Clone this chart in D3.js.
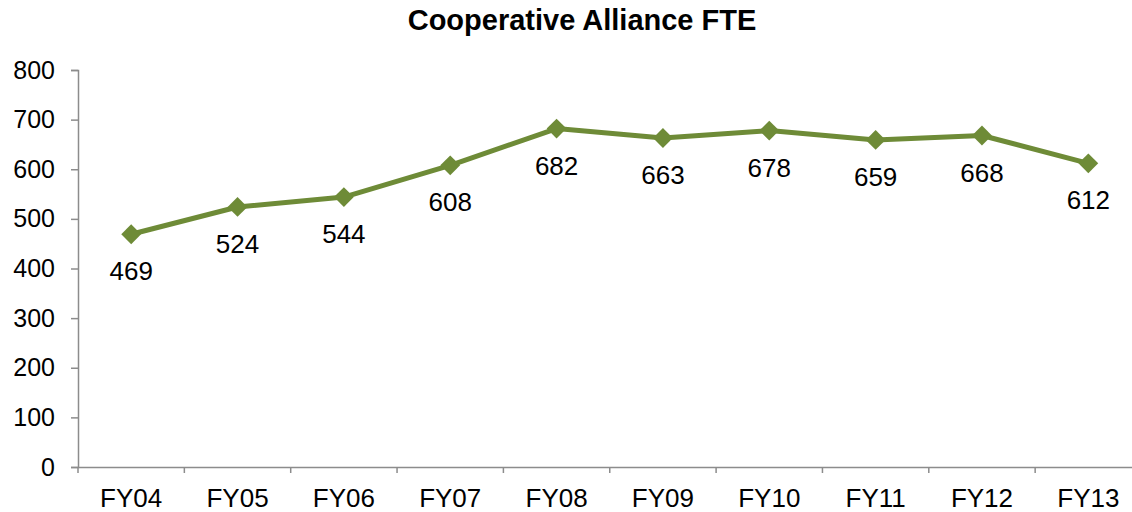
<!DOCTYPE html>
<html>
<head>
<meta charset="utf-8">
<script src="https://cdn.jsdelivr.net/npm/d3@7"></script>
<style>
  body { margin: 0; background: #fff; }
  svg { display: block; font-family: "Liberation Sans", Arial, sans-serif; }
</style>
</head>
<body>
<div id="chart"></div>
<script>
const years = ["FY04", "FY05", "FY06", "FY07", "FY08", "FY09", "FY10", "FY11", "FY12", "FY13"];
const fte = [469, 524, 544, 608, 682, 663, 678, 659, 668, 612];
const yTicks = [0, 100, 200, 300, 400, 500, 600, 700, 800];

const width = 1132;
const height = 512;
const lineColor = "#6e8b37";

const svg = d3.select("#chart")
  .append("svg")
  .attr("width", width)
  .attr("height", height);

// title
svg.append("text")
  .attr("x", 582)
  .attr("y", 30)
  .attr("text-anchor", "middle")
  .style("font-size", "29px")
  .style("font-weight", "bold")
  .text("Cooperative Alliance FTE");

// scales
const x = d3.scaleBand()
  .domain(years)
  .range([78, 78 + 106.35 * years.length]);

const y = d3.scaleLinear()
  .domain([0, 800])
  .range([467, 70]);

// y axis
const yAxis = d3.axisLeft(y)
  .tickValues(yTicks)
  .tickSize(7)
  .tickSizeOuter(7)
  .tickPadding(16);

const gy = svg.append("g")
  .attr("transform", "translate(78,0)")
  .call(yAxis);
gy.select(".domain").attr("stroke", "#8c8c8c").attr("stroke-width", 1.5);
gy.selectAll(".tick line").attr("stroke", "#8c8c8c").attr("stroke-width", 1.5);
gy.selectAll(".tick text")
  .style("font-size", "25px")
  .attr("fill", "#000");

// x axis
const xAxis = d3.axisBottom(x)
  .tickSize(0)
  .tickPadding(21.5);

const gx = svg.append("g")
  .attr("transform", "translate(0,467)")
  .call(xAxis);
gx.select(".domain").attr("stroke", "#8c8c8c").attr("stroke-width", 1.5);
gx.selectAll(".tick text")
  .style("font-size", "26px")
  .attr("fill", "#000");

// category boundary ticks
gx.selectAll(".bound")
  .data(years)
  .enter()
  .append("line")
  .attr("class", "bound")
  .attr("x1", d => x(d))
  .attr("x2", d => x(d))
  .attr("y1", 0)
  .attr("y2", 6)
  .attr("stroke", "#8c8c8c")
  .attr("stroke-width", 1.5);

const cx = d => x(d) + x.bandwidth() / 2;

// line
const line = d3.line()
  .x((d, i) => cx(years[i]))
  .y(d => y(d));

svg.append("path")
  .datum(fte)
  .attr("fill", "none")
  .attr("stroke", lineColor)
  .attr("stroke-width", 5)
  .attr("stroke-linejoin", "round")
  .attr("d", line);

// markers
svg.selectAll(".marker")
  .data(fte)
  .enter()
  .append("path")
  .attr("class", "marker")
  .attr("d", d3.symbol().type(d3.symbolDiamond2).size(250))
  .attr("transform", (d, i) => `translate(${cx(years[i])},${y(d)})`)
  .attr("fill", lineColor);

// value labels
svg.selectAll(".label")
  .data(fte)
  .enter()
  .append("text")
  .attr("class", "label")
  .attr("x", (d, i) => cx(years[i]))
  .attr("y", d => y(d) + 46)
  .attr("text-anchor", "middle")
  .style("font-size", "26px")
  .text(d => d);
</script>
</body>
</html>
